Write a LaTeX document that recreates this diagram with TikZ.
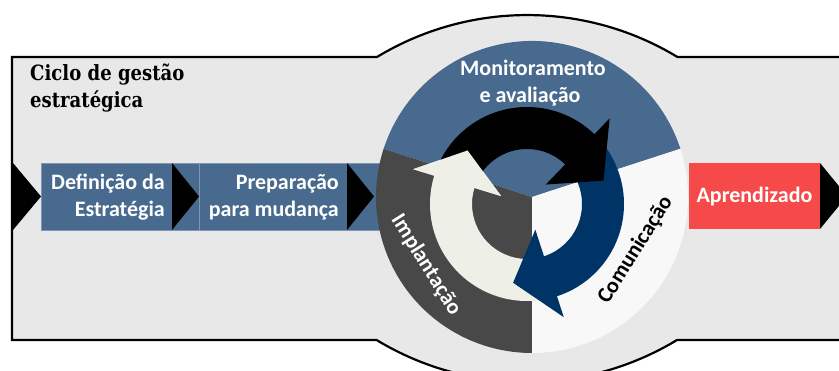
\documentclass[tikz,border=0pt]{standalone}
\usepackage{fontspec}
\setmainfont{Carlito}
\newfontfamily\titlefont[FakeStretch=0.86]{DejaVu Serif}
\definecolor{bg}{HTML}{E8E8E8}
\definecolor{steelb}{HTML}{486A8E}
\definecolor{darkg}{HTML}{484848}
\definecolor{whitesec}{HTML}{F8F8F8}
\definecolor{navy}{HTML}{003366}
\definecolor{lightarr}{HTML}{EEEFE6}
\definecolor{redbox}{HTML}{F64A4A}
\newcommand\cycarrow[4]{%
  \fill[#1] (#2:97) arc[start angle=#2,end angle=#3,radius=97] -- (#3:119) -- (#4:80) -- (#3:27) -- (#3:55) arc[start angle=#3,end angle=#2,radius=55] -- cycle;}
\begin{document}
\begin{tikzpicture}[x=1pt,y=1pt,
  lbl/.style={font=\fontsize{22}{26}\selectfont\bfseries, text=white, inner sep=0pt},
  ttl/.style={font=\titlefont\fontsize{21}{26}\selectfont\bfseries, inner sep=0pt, anchor=base west},
  chev/.style={fill=black},
  stepbox/.style={fill=steelb, draw=steelb!70!white, line width=0.6pt}]
\useasboundingbox (0,0) rectangle (839,371);
\clip (0,0) rectangle (839,371);
% background frame
\draw[fill=bg, line width=2.2pt] (12,314) -- (377,314)
  arc[start angle=121.2, end angle=58.8, radius=290] -- (870,314) -- (870,31) -- (677,31)
  arc[start angle=301.2, end angle=238.8, radius=290] -- (12,31) -- cycle;
% process steps
\draw[stepbox] (41,141) rectangle (199,208);
\draw[stepbox] (199,141) rectangle (420,208);
\fill[chev] (13,208) -- (41,174.5) -- (13,141) -- cycle;
\fill[chev] (172,208) -- (199,174.5) -- (172,141) -- cycle;
\fill[chev] (347,208) -- (374,174.5) -- (347,141) -- cycle;
\fill[redbox] (689,142) rectangle (820,208);
\fill[chev] (820,208) -- (847,175) -- (820,142) -- cycle;
% pie
\fill[steelb] (532,174) -- ++(18:156) arc[start angle=18,end angle=162,radius=156] -- cycle;
\fill[darkg] (532,174) -- ++(162:156) arc[start angle=162,end angle=270,radius=156] -- cycle;
\fill[whitesec] (532,174) -- ++(270:156) arc[start angle=270,end angle=378,radius=156] -- cycle;
% cycle arrows
\begin{scope}[shift={(527,167)}]
  \cycarrow{lightarr}{-80}{-197}{-222}
  \cycarrow{navy}{40}{-72}{-100}
  \cycarrow{black}{160}{46}{17}
  \fill[lightarr] (-197:119) -- (-222:80) -- (-197:27) -- cycle;
\end{scope}
% texts
\node[ttl] (t1) at (30,290) {Ciclo de gestão};
\node[ttl] (t2) at (30,263) {estratégica};
\node[lbl, anchor=base east] (d1) at (165,181) {Definição da};
\node[lbl, anchor=base east] (d2) at (165,154) {Estratégia};
\node[lbl, anchor=base east] (p1) at (339,181) {Preparação};
\node[lbl, anchor=base east] (p2) at (339,154) {para mudança};
\node[lbl, anchor=base] (ap) at (754.5,168) {Aprendizado};
\node[lbl, anchor=base] (m1) at (533,295) {Monitoramento};
\node[lbl, anchor=base] (m2) at (530,268) {e avaliação};
\node[lbl, rotate=-58] (im) at (426,106) {Implantação};
\node[lbl, text=black, rotate=58] (co) at (635.5,121) {Comunicação};
\end{tikzpicture}
\end{document}
